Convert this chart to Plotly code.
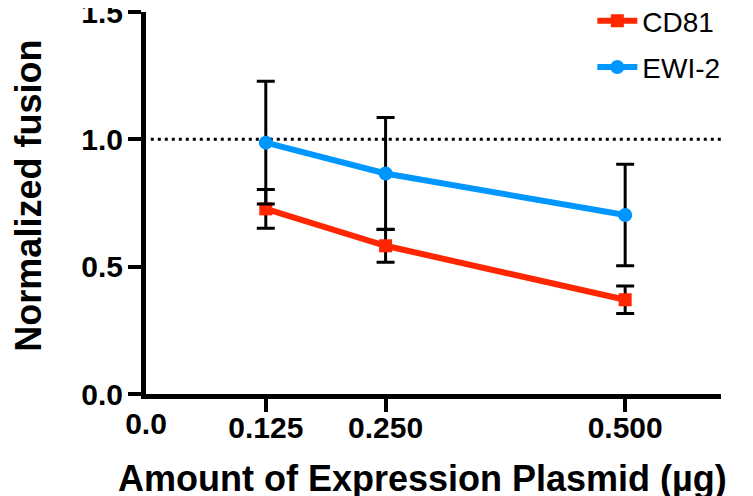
import plotly.graph_objects as go

dose = [0.125, 0.25, 0.5]
x_ticks = [0.125, 0.25, 0.5]
x_tick_labels = ["0.125", "0.250", "0.500"]
y_ticks = [0.0, 0.5, 1.0, 1.5]
y_tick_labels = ["0.0", "0.5", "1.0", "1.5"]

cd81 = [0.727, 0.582, 0.370]
cd81_err = [0.076, 0.065, 0.054]
ewi2 = [0.987, 0.866, 0.703]
ewi2_err = [0.241, 0.220, 0.199]

RED = "rgb(255,38,0)"
BLUE = "rgb(0,150,255)"
FONT = "Liberation Sans, Arial, sans-serif"

fig = go.Figure()

fig.add_trace(go.Scatter(
    x=dose, y=cd81, name="CD81", mode="lines+markers",
    line=dict(color=RED, width=6),
    marker=dict(symbol="square", size=13, color=RED),
    error_y=dict(type="data", array=cd81_err, color="black", thickness=3, width=9),
    legendgroup="a",
))
fig.add_trace(go.Scatter(
    x=dose, y=ewi2, name="EWI-2", mode="lines+markers",
    line=dict(color=BLUE, width=6),
    marker=dict(symbol="circle", size=14, color=BLUE),
    error_y=dict(type="data", array=ewi2_err, color="black", thickness=3, width=9),
    legendgroup="b",
))
# dummy trace on overlay axis to show the "0.0" x label
fig.add_trace(go.Scatter(x=[0], y=[None], xaxis="x2", showlegend=False, hoverinfo="skip"))

fig.add_shape(type="line", xref="x", yref="y", x0=0.005, x1=0.6, y0=1.0, y1=1.0,
              line=dict(color="black", width=3, dash="3px,4px"), layer="below")

tickfont = dict(family=FONT, size=30, color="black", weight="bold")
axis_common = dict(
    showgrid=False, zeroline=False, showline=True, linecolor="black", linewidth=5,
    ticks="outside", ticklen=13, tickwidth=4, tickcolor="black",
    tickfont=tickfont, automargin=False, ticklabeloverflow="allow",
)

fig.add_annotation(text="Amount of Expression Plasmid (µg)", xref="paper", yref="paper",
                   x=0.4817, y=-0.22, xanchor="center", yanchor="middle", showarrow=False,
                   font=dict(family=FONT, size=36, color="black", weight="bold"))
fig.add_annotation(text="Normalized fusion", xref="paper", yref="paper",
                   x=-0.205, y=0.5196, xanchor="center", yanchor="middle", showarrow=False,
                   textangle=-90,
                   font=dict(family=FONT, size=36, color="black", weight="bold"))

fig.update_layout(
    width=753, height=496,
    margin=dict(l=138, r=40, t=4, b=110, autoexpand=False),
    paper_bgcolor="white", plot_bgcolor="white",
    xaxis=dict(range=[0, 0.6], tickvals=x_ticks, ticktext=x_tick_labels,
               ticklabelstandoff=-10, **axis_common),
    xaxis2=dict(range=[0, 0.6], overlaying="x", anchor="y", side="bottom",
                tickvals=[0], ticktext=["0.0"], showgrid=False, zeroline=False,
                showline=False, ticks="outside", ticklen=13, tickwidth=4,
                tickcolor="rgba(0,0,0,0)", ticklabelstandoff=-10,
                tickfont=tickfont, ticklabeloverflow="allow"),
    yaxis=dict(range=[0, 1.5], tickvals=y_ticks, ticktext=y_tick_labels,
               ticklabelstandoff=-1, **axis_common),
    legend=dict(xref="container", yref="paper", x=0.776, y=1.042,
                xanchor="left", yanchor="top", bgcolor="rgba(0,0,0,0)",
                font=dict(family=FONT, size=28, color="black"),
                tracegroupgap=7, itemwidth=40),
    showlegend=True,
)

fig.write_html("out.html")
